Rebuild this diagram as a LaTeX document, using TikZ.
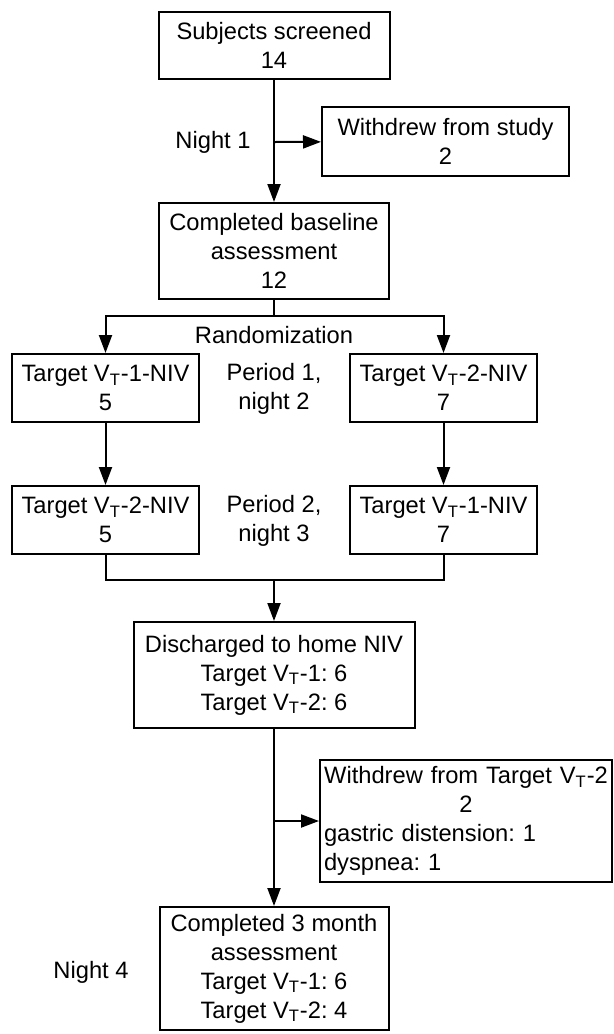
\documentclass[tikz,border=0pt]{standalone}
\usepackage{fontspec}
\setmainfont{Liberation Sans}
\usetikzlibrary{arrows.meta, positioning}
\newcommand{\Vt}{V\textsubscript{T}}
\frenchspacing

\begin{document}
\begin{tikzpicture}[x=0.5pt, y=-0.5pt,
    box/.style={draw=black, line width=1pt, inner sep=0pt, align=center,
      font=\fontsize{11.85}{14.5}\selectfont},
    lbl/.style={align=center, inner sep=0pt, font=\fontsize{11.85}{14.5}\selectfont},
    arr/.style={line width=1pt, -{Triangle[length=9pt, width=6.5pt]}},
    ln/.style={line width=1pt}]
  \useasboundingbox (0,0) rectangle (614,1034);
  % Screening
  \node[box, minimum width=231*0.5pt, minimum height=67*0.5pt] (screen) at (274,45.5)
    {Subjects screened\\14};
  \node[box, minimum width=247*0.5pt, minimum height=69*0.5pt] (withdraw) at (445.5,141.5)
    {Withdrew from study\\2};
  \node[lbl] (night1) at (213,142) {Night 1};
  \coordinate (j1) at (274,142);
  % Baseline
  \node[box, minimum width=230*0.5pt, minimum height=96*0.5pt] (baseline) at (274,251)
    {Completed baseline\\assessment\\12};
  \coordinate (split) at (274,316);
  \node[lbl] (rand) at (274,335) {Randomization};
  % Period 1
  \node[box, minimum width=187*0.5pt, minimum height=68*0.5pt] (left1) at (105.5,388)
    {Target \Vt-1-NIV\\5};
  \node[box, minimum width=187*0.5pt, minimum height=68*0.5pt] (right1) at (443.5,388)
    {Target \Vt-2-NIV\\7};
  \node[lbl] (period1) at (274,389) {Period 1,\\night 2};
  % Period 2
  \node[box, minimum width=187*0.5pt, minimum height=68*0.5pt] (left2) at (105.5,520)
    {Target \Vt-2-NIV\\5};
  \node[box, minimum width=187*0.5pt, minimum height=68*0.5pt] (right2) at (443.5,520)
    {Target \Vt-1-NIV\\7};
  \node[lbl] (period2) at (274,521) {Period 2,\\night 3};
  \coordinate (merge) at (274,580);
  % Home NIV
  \node[box, minimum width=281*0.5pt, minimum height=106*0.5pt] (discharged) at (274,675)
    {Discharged to home NIV\\Target \Vt-1: 6\\Target \Vt-2: 6};
  \node[box, text width=284*0.5pt, inner xsep=4*0.5pt, minimum height=122*0.5pt, align=left]
    (withdraw2) at (466,821)
    {{\centering Withdrew from Target \Vt-2\\2\par}gastric distension: 1\\dyspnea: 1};
  \coordinate (j2) at (274,821);
  % 3 months
  \node[box, minimum width=229*0.5pt, minimum height=123*0.5pt] (final) at (274,968.5)
    {Completed 3 month\\assessment\\Target \Vt-1: 6\\Target \Vt-2: 4};
  \node[lbl] (night4) at (91,972) {Night 4};
  % Connectors
  \draw[arr] (screen) -- (baseline);
  \draw[arr] (j1) -- (withdraw);
  \draw[ln] (baseline) -- (split);
  \draw[arr] (split) -| (left1);
  \draw[arr] (split) -| (right1);
  \draw[arr] (left1) -- (left2);
  \draw[arr] (right1) -- (right2);
  \draw[ln] (left2) |- (merge);
  \draw[ln] (right2) |- (merge);
  \draw[arr] (merge) -- (discharged);
  \draw[arr] (discharged) -- (final);
  \draw[arr] (j2) -- (withdraw2);
\end{tikzpicture}
\end{document}
